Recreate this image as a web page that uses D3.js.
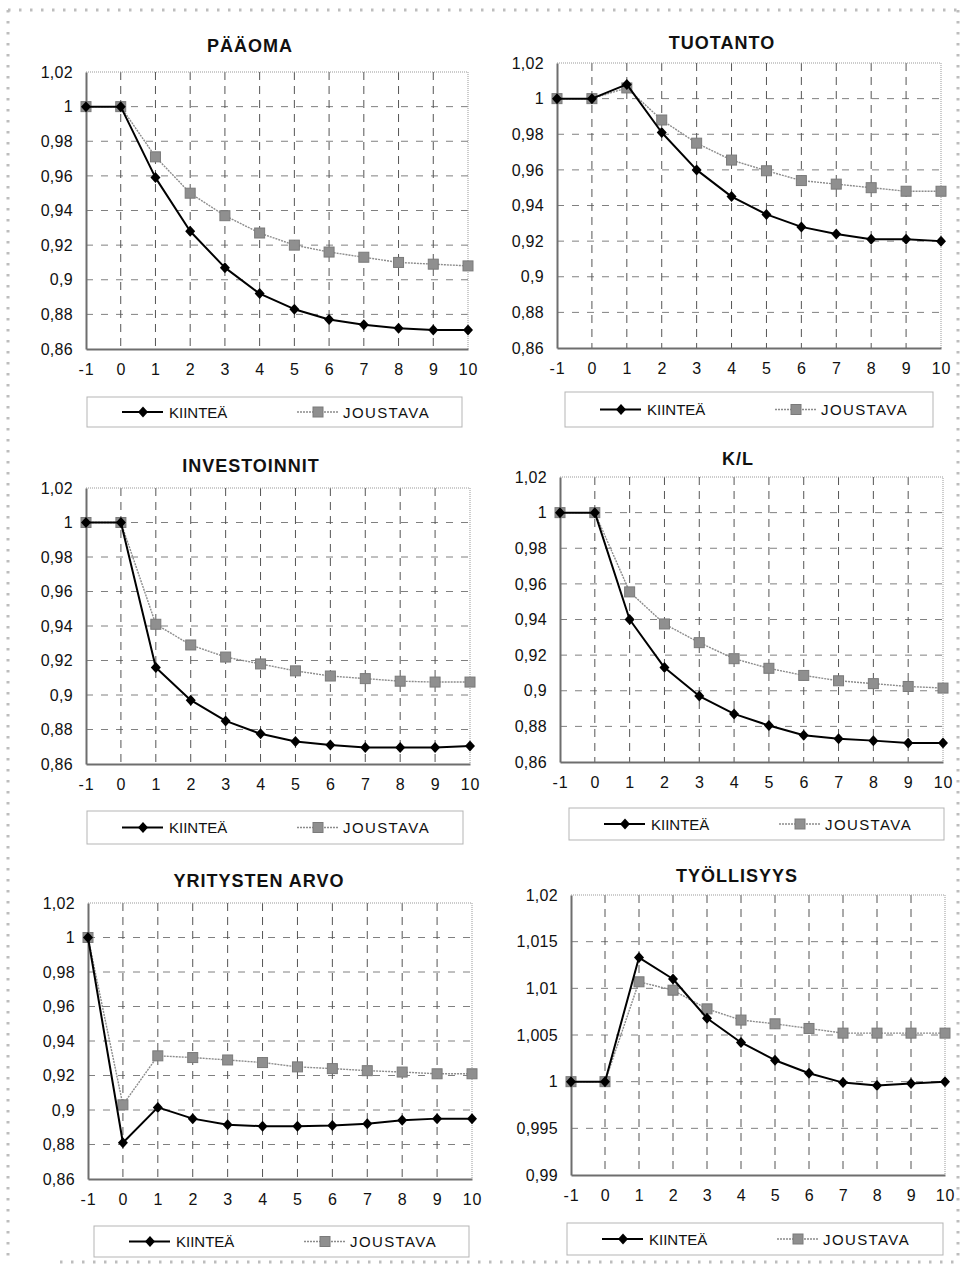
<!DOCTYPE html>
<html>
<head>
<meta charset="utf-8">
<script src="https://cdn.jsdelivr.net/npm/d3@7"></script>
<style>
  html, body { margin: 0; padding: 0; background: #fff; }
  svg { display: block; }
  text { font-family: "Liberation Sans", Arial, sans-serif; fill: #111; }
</style>
</head>
<body>
<svg id="chart" width="962" height="1264"></svg>
<script>
// Periods on the horizontal axis
const years = [-1, 0, 1, 2, 3, 4, 5, 6, 7, 8, 9, 10];

// Series names
const seriesNames = ["KIINTEÄ", "JOUSTAVA"];

// Panel titles
const titles = ["PÄÄOMA", "TUOTANTO", "INVESTOINNIT", "K/L", "YRITYSTEN ARVO", "TYÖLLISYYS"];

// Y-axis tick values
const yTicksCommon = [0.86, 0.88, 0.9, 0.92, 0.94, 0.96, 0.98, 1, 1.02];
const yTicksEmployment = [0.99, 0.995, 1, 1.005, 1.01, 1.015, 1.02];

// PÄÄOMA
const paaomaKiintea  = [1, 1, 0.959, 0.928, 0.907, 0.892, 0.883, 0.877, 0.874, 0.872, 0.871, 0.871];
const paaomaJoustava = [1, 1, 0.971, 0.950, 0.937, 0.927, 0.920, 0.916, 0.913, 0.910, 0.909, 0.908];

// TUOTANTO
const tuotantoKiintea  = [1, 1, 1.008, 0.981, 0.960, 0.945, 0.935, 0.928, 0.924, 0.921, 0.921, 0.920];
const tuotantoJoustava = [1, 1, 1.006, 0.988, 0.975, 0.9655, 0.9595, 0.954, 0.952, 0.950, 0.948, 0.948];

// INVESTOINNIT
const investoinnitKiintea  = [1, 1, 0.916, 0.897, 0.885, 0.8775, 0.873, 0.871, 0.8695, 0.8695, 0.8695, 0.8705];
const investoinnitJoustava = [1, 1, 0.941, 0.929, 0.922, 0.918, 0.914, 0.911, 0.9095, 0.908, 0.9075, 0.9075];

// K/L
const klKiintea  = [1, 1, 0.940, 0.913, 0.897, 0.887, 0.8805, 0.875, 0.873, 0.872, 0.8707, 0.8707];
const klJoustava = [1, 1, 0.9555, 0.9375, 0.927, 0.918, 0.9126, 0.9086, 0.9056, 0.904, 0.9024, 0.9015];

// YRITYSTEN ARVO
const arvoKiintea  = [1, 0.881, 0.9015, 0.895, 0.8915, 0.8906, 0.8906, 0.891, 0.892, 0.894, 0.895, 0.895];
const arvoJoustava = [1, 0.903, 0.9314, 0.9304, 0.929, 0.9275, 0.925, 0.924, 0.9228, 0.922, 0.921, 0.921];

// TYÖLLISYYS
const tyollisyysKiintea  = [1, 1, 1.0133, 1.011, 1.0068, 1.0042, 1.0023, 1.0009, 0.9999, 0.9996, 0.9998, 1.0];
const tyollisyysJoustava = [1, 1, 1.0107, 1.0098, 1.0078, 1.0066, 1.0062, 1.0057, 1.0052, 1.0052, 1.0052, 1.0052];

// Panel placement on the page
const layout = [
  { plot: [86, 468, 72, 349],   title: [250, 52],  legend: [87, 397, 375, 30] },
  { plot: [557, 941, 63, 348],  title: [722, 49],  legend: [565, 392, 368, 35] },
  { plot: [86, 470, 488, 764],  title: [251, 472], legend: [87, 811, 376, 33] },
  { plot: [560, 943, 477, 762], title: [738, 465], legend: [569, 808, 375, 32] },
  { plot: [88, 472, 903, 1179], title: [259, 887], legend: [94, 1226, 375, 31] },
  { plot: [571, 945, 895, 1175], title: [737, 882], legend: [567, 1223, 376, 32] }
];

const panels = [
  { title: titles[0], ticks: yTicksCommon, series: [paaomaKiintea, paaomaJoustava] },
  { title: titles[1], ticks: yTicksCommon, series: [tuotantoKiintea, tuotantoJoustava] },
  { title: titles[2], ticks: yTicksCommon, series: [investoinnitKiintea, investoinnitJoustava] },
  { title: titles[3], ticks: yTicksCommon, series: [klKiintea, klJoustava] },
  { title: titles[4], ticks: yTicksCommon, series: [arvoKiintea, arvoJoustava] },
  { title: titles[5], ticks: yTicksEmployment, series: [tyollisyysKiintea, tyollisyysJoustava] }
];

const fi = d3.formatLocale({ decimal: ",", thousands: "\u00a0", grouping: [3], currency: ["", " €"] });
const fmt = fi.format("~g");

const svg = d3.select("#chart");

// Decorative dotted frame around the page
const frame = svg.append("g")
  .attr("fill", "none")
  .attr("stroke", "#bdbdbd")
  .attr("stroke-width", 3)
  .attr("stroke-dasharray", "2.5,8.5");
frame.append("line").attr("x1", 8).attr("y1", 10).attr("x2", 958).attr("y2", 10);
frame.append("line").attr("x1", 8).attr("y1", 10).attr("x2", 8).attr("y2", 1262);
frame.append("line").attr("x1", 958).attr("y1", 10).attr("x2", 958).attr("y2", 1262);
frame.append("line").attr("x1", 60).attr("y1", 1262).attr("x2", 958).attr("y2", 1262);

const styles = [
  { stroke: "#000", width: 2, dash: null, marker: "diamond" },
  { stroke: "#8c8c8c", width: 1.4, dash: "2,1", marker: "square" }
];

function marker(g, type, x, y) {
  if (type === "diamond") {
    g.append("path")
      .attr("d", `M${x},${y - 5.5}L${x + 5},${y}L${x},${y + 5.5}L${x - 5},${y}Z`)
      .attr("fill", "#000");
  } else {
    g.append("rect")
      .attr("x", x - 5).attr("y", y - 5)
      .attr("width", 10).attr("height", 10)
      .attr("fill", "#8f8f8f")
      .attr("stroke", "#7a7a7a")
      .attr("stroke-width", 1);
  }
}

panels.forEach((p, i) => {
  const L = layout[i];
  const [x0, x1, y0, y1] = L.plot;
  const g = svg.append("g");

  const x = d3.scalePoint().domain(years).range([x0, x1]).padding(0);
  const y = d3.scaleLinear().domain([p.ticks[0], p.ticks[p.ticks.length - 1]]).range([y1, y0]);

  // Title
  g.append("text")
    .attr("x", L.title[0]).attr("y", L.title[1])
    .attr("text-anchor", "middle")
    .attr("font-size", 18).attr("font-weight", "bold")
    .attr("letter-spacing", 1)
    .text(p.title);

  // Horizontal gridlines
  g.append("g").selectAll("line")
    .data(p.ticks.slice(1, -1))
    .join("line")
    .attr("x1", x0).attr("x2", x1)
    .attr("y1", d => y(d)).attr("y2", d => y(d))
    .attr("stroke", "#808080").attr("stroke-width", 1)
    .attr("stroke-dasharray", "7,8");

  // Vertical gridlines
  g.append("g").selectAll("line")
    .data(years.slice(1, -1))
    .join("line")
    .attr("x1", d => x(d)).attr("x2", d => x(d))
    .attr("y1", y0).attr("y2", y1)
    .attr("stroke", "#555").attr("stroke-width", 1)
    .attr("stroke-dasharray", "8,6");

  // Plot frame: dotted top/right, solid left/bottom
  g.append("path")
    .attr("d", `M${x0},${y0}H${x1}V${y1}`)
    .attr("fill", "none").attr("stroke", "#999")
    .attr("stroke-width", 1).attr("stroke-dasharray", "1,1");

  // Y axis
  const yAxis = g.append("g")
    .attr("transform", `translate(${x0},0)`)
    .call(d3.axisLeft(y).tickValues(p.ticks).tickFormat(fmt).tickSize(0).tickPadding(13));
  yAxis.select(".domain").attr("stroke", "#6e6e6e").attr("stroke-width", 2);
  yAxis.selectAll("text")
    .attr("font-size", 16).attr("fill", "#111").attr("letter-spacing", 0.3)
    .attr("font-family", "\"Liberation Sans\", Arial, sans-serif");

  // X axis
  const xAxis = g.append("g")
    .attr("transform", `translate(0,${y1})`)
    .call(d3.axisBottom(x).tickFormat(d => String(d)).tickSize(0).tickPadding(15));
  xAxis.select(".domain").attr("stroke", "#6e6e6e").attr("stroke-width", 2);
  xAxis.selectAll("text")
    .attr("font-size", 16).attr("fill", "#111").attr("letter-spacing", 0.8)
    .attr("font-family", "\"Liberation Sans\", Arial, sans-serif");

  // Series: gray one underneath, black on top
  [1, 0].forEach(si => {
    const s = styles[si];
    const vals = p.series[si];
    const line = d3.line().x((d, k) => x(years[k])).y(d => y(d));
    g.append("path")
      .datum(vals)
      .attr("d", line)
      .attr("fill", "none")
      .attr("stroke", s.stroke)
      .attr("stroke-width", s.width)
      .attr("stroke-dasharray", s.dash)
      .attr("stroke-linejoin", "round");
    const mg = g.append("g");
    vals.forEach((v, k) => marker(mg, s.marker, x(years[k]), y(v)));
  });

  // Legend
  const [lx, ly, lw, lh] = L.legend;
  const lg = g.append("g");
  lg.append("rect")
    .attr("x", lx).attr("y", ly).attr("width", lw).attr("height", lh)
    .attr("fill", "none").attr("stroke", "#b5b5b5").attr("stroke-width", 1);
  const cy = ly + lh / 2;
  const legendItems = [
    { line: [35, 76], mark: 56, text: 82, spacing: 0 },
    { line: [210, 252], mark: 231, text: 256, spacing: 1.4 }
  ];
  legendItems.forEach((it, si) => {
    const s = styles[si];
    lg.append("line")
      .attr("x1", lx + it.line[0]).attr("x2", lx + it.line[1])
      .attr("y1", cy).attr("y2", cy)
      .attr("stroke", s.stroke).attr("stroke-width", s.width)
      .attr("stroke-dasharray", s.dash);
    marker(lg, s.marker, lx + it.mark, cy);
    lg.append("text")
      .attr("x", lx + it.text).attr("y", cy + 5.5)
      .attr("font-size", 15)
      .attr("letter-spacing", it.spacing)
      .text(seriesNames[si]);
  });
});
</script>
</body>
</html>
